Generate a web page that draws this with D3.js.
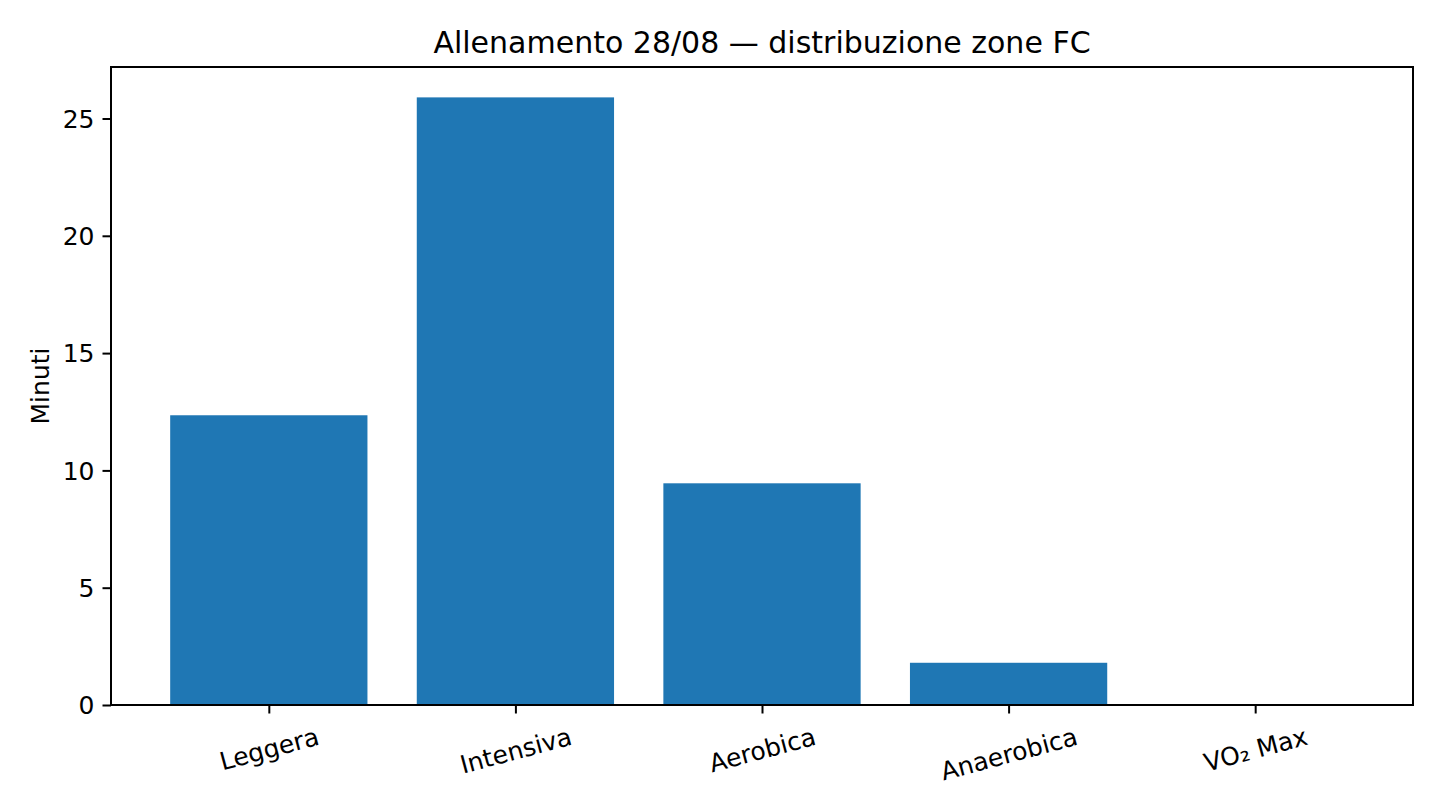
<!DOCTYPE html>
<html><head><meta charset="utf-8">
<script src="https://cdn.jsdelivr.net/npm/d3@7"></script>
<style>
html,body{margin:0;padding:0;background:#fff;}
svg text{font-family:"DejaVu Sans",sans-serif;fill:#000;}
</style></head>
<body><svg id="chart" width="1440" height="810"></svg>
<script>
const categories = ["Leggera","Intensiva","Aerobica","Anaerobica","VO₂ Max"];
const minutes = [12.35, 25.9, 9.45, 1.8, 0];
const yTicks = [0,5,10,15,20,25];
const titleText = "Allenamento 28/08 — distribuzione zone FC";
const yLabel = "Minuti";

const svg = d3.select("#chart");
const L=111, R=1413, T=67, B=705;
const n = categories.length;
const barW = 0.8;
const fs = 25, tfs = 30;
const x = d3.scaleLinear().domain([-barW/2 - 0.05*(n-1+barW), (n-1)+barW/2 + 0.05*(n-1+barW)]).range([L,R]);
const ymax = d3.max(minutes)*1.05;
const y = d3.scaleLinear().domain([0, ymax]).range([B,T]);

svg.append("rect").attr("x",0).attr("y",0).attr("width",1440).attr("height",810).attr("fill","#fff");

svg.selectAll("rect.bar").data(minutes).enter().append("rect").attr("class","bar")
  .attr("x",(d,i)=>x(i-barW/2)).attr("width",(d,i)=>x(i+barW/2)-x(i-barW/2))
  .attr("y",d=>y(d)).attr("height",d=>y(0)-y(d)).attr("fill","#1f77b4");

// y axis
const yAxis = d3.axisLeft(y).tickValues(yTicks).tickSize(8.5).tickPadding(8).tickFormat(d3.format("d"));
const gy = svg.append("g").attr("transform",`translate(${L},0)`).call(yAxis);
gy.select(".domain").remove();
gy.selectAll(".tick line").attr("stroke","#000").attr("stroke-width",2);
gy.selectAll(".tick text").attr("font-size",fs).attr("dy","0.35em");

// x axis
const xAxis = d3.axisBottom(x).tickValues(d3.range(n)).tickSize(8.5).tickFormat(i=>categories[i]);
const gx = svg.append("g").attr("transform",`translate(0,${B})`).call(xAxis);
gx.select(".domain").remove();
gx.selectAll(".tick line").attr("stroke","#000").attr("stroke-width",2);
const ang = 15*Math.PI/180;
gx.selectAll(".tick text").each(function(){
  const t = d3.select(this);
  t.attr("font-size",fs).attr("text-anchor","middle").attr("dy",null).attr("y",0).attr("dominant-baseline","central");
  const w = this.getComputedTextLength();
  const h = fs*1.16;
  const H = w*Math.sin(ang) + h*Math.cos(ang);
  const yc = 17 + H/2;
  t.attr("y",yc).attr("transform",`rotate(-15,0,${yc})`);
});

// frame
svg.append("rect").attr("x",L).attr("y",T).attr("width",R-L).attr("height",B-T)
  .attr("fill","none").attr("stroke","#000").attr("stroke-width",2);

svg.append("text").attr("x",(L+R)/2).attr("y",53).attr("text-anchor","middle")
  .attr("font-size",tfs).text(titleText);

svg.append("text").attr("transform",`translate(49,${(T+B)/2}) rotate(-90)`)
  .attr("text-anchor","middle").attr("font-size",fs).text(yLabel);
</script></body></html>
